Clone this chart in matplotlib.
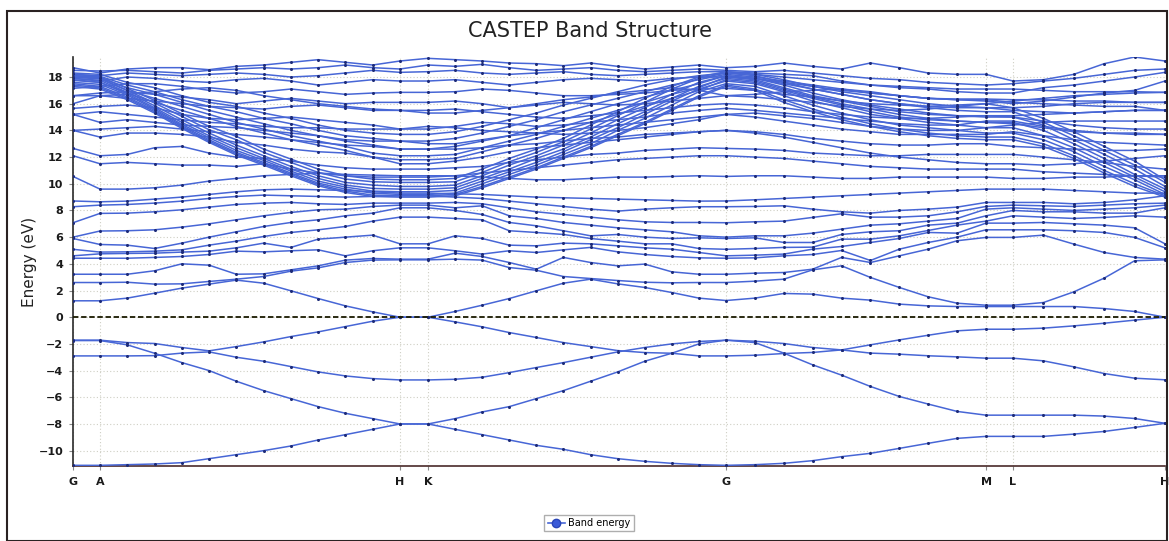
import numpy as np
import matplotlib
matplotlib.use("Agg")
import matplotlib.pyplot as plt
from matplotlib.lines import Line2D
from matplotlib.patches import Rectangle

# ---------------------------------------------------------------------------
# k-path: high-symmetry labels, segment lengths (path units) and k-steps
# ---------------------------------------------------------------------------
kpoint_labels = ["G", "A", "H", "K", "G", "M", "L", "H"]
segment_lengths = [27, 300, 28, 298, 260, 27, 152]
segment_steps = [1, 11, 1, 11, 9, 1, 5]

energy_ticks = list(range(-10, 19, 2))

# ---------------------------------------------------------------------------
# Band energies (eV) at each k-point along G-A-H-K-G-M-L-H
# ---------------------------------------------------------------------------
# valence bands
vb1 = [-11.10, -11.10,
       -11.05, -11.00, -10.90, -10.60, -10.30, -10.00, -9.65, -9.20, -8.80, -8.40, -8.00,
       -8.00,
       -8.40, -8.80, -9.20, -9.60, -9.90, -10.30, -10.60, -10.80, -10.95, -11.05, -11.10,
       -11.05, -10.95, -10.75, -10.45, -10.20, -9.83, -9.45, -9.08, -8.93,
       -8.93,
       -8.93, -8.76, -8.56, -8.26, -7.95]
vb2 = [-1.75, -1.75,
       -2.07, -2.70, -3.40, -4.00, -4.80, -5.50, -6.10, -6.70, -7.20, -7.60, -8.00,
       -8.00,
       -7.60, -7.10, -6.70, -6.10, -5.50, -4.80, -4.10, -3.30, -2.70, -2.00, -1.72,
       -1.90, -2.69, -3.57, -4.34, -5.19, -5.94, -6.51, -7.06, -7.34,
       -7.34,
       -7.34, -7.34, -7.41, -7.59, -7.95]
vb3 = [-1.72, -1.72,
       -1.90, -1.97, -2.27, -2.52, -2.20, -1.85, -1.45, -1.10, -0.70, -0.30, 0.00,
       0.00,
       -0.35, -0.72, -1.15, -1.52, -1.90, -2.20, -2.50, -2.65, -2.70, -2.90, -2.90,
       -2.85, -2.72, -2.64, -2.45, -2.69, -2.77, -2.89, -2.97, -3.07,
       -3.07,
       -3.27, -3.72, -4.22, -4.57, -4.69]
vb4 = [-2.90, -2.90,
       -2.90, -2.88, -2.69, -2.60, -3.00, -3.30, -3.70, -4.10, -4.40, -4.60, -4.70,
       -4.70,
       -4.65, -4.50, -4.15, -3.77, -3.40, -3.00, -2.60, -2.27, -2.00, -1.82, -1.72,
       -1.80, -1.97, -2.27, -2.45, -2.07, -1.70, -1.35, -1.02, -0.90,
       -0.90,
       -0.82, -0.65, -0.45, -0.22, 0.00]

# lower conduction bands
cb01 = [1.23, 1.23,
        1.43, 1.80, 2.18, 2.48, 2.78, 2.55, 1.98, 1.40, 0.85, 0.40, 0.00,
        0.00,
        0.43, 0.90, 1.40, 1.98, 2.55, 2.85, 2.50, 2.23, 1.85, 1.43, 1.25,
        1.43, 1.78, 1.73, 1.43, 1.28, 0.98, 0.85, 0.80, 0.80,
        0.80,
        0.80, 0.80, 0.65, 0.43, 0.00]
cb02 = [2.60, 2.60,
        2.62, 2.48, 2.50, 2.68, 2.85, 3.05, 3.45, 3.70, 4.10, 4.28, 4.30,
        4.30,
        4.35, 4.28, 3.72, 3.52, 3.05, 2.90, 2.75, 2.62, 2.58, 2.60, 2.60,
        2.70, 2.85, 3.55, 3.85, 2.98, 2.23, 1.53, 1.05, 0.90,
        0.90,
        1.10, 1.90, 2.93, 4.23, 4.30]
cb03 = [3.22, 3.22,
        3.22, 3.48, 4.00, 3.90, 3.22, 3.25, 3.55, 3.85, 4.28, 4.40, 4.35,
        4.35,
        4.80, 4.55, 4.10, 3.60, 4.48, 4.10, 3.85, 3.98, 3.40, 3.22, 3.22,
        3.30, 3.35, 3.60, 4.48, 4.10, 4.60, 5.10, 5.73, 5.98,
        5.98,
        6.15, 5.48, 4.85, 4.48, 4.35]
cb04 = [4.42, 4.42,
        4.42, 4.48, 4.55, 4.70, 4.95, 4.90, 4.98, 5.05, 4.60, 4.98, 5.20,
        5.20,
        4.98, 4.73, 4.98, 4.85, 5.05, 5.23, 4.90, 4.70, 4.55, 4.45, 4.42,
        4.45, 4.60, 4.70, 5.00, 4.25, 5.10, 5.60, 6.00, 6.55,
        6.55,
        6.55, 6.48, 6.35, 5.98, 5.20]
cb05 = [4.60, 4.75,
        4.78, 4.80, 4.88, 4.95, 5.20, 5.55, 5.23, 5.85, 6.00, 6.15, 5.50,
        5.50,
        6.10, 5.90, 5.40, 5.35, 5.55, 5.50, 5.35, 5.20, 5.10, 4.85, 4.60,
        4.65, 4.73, 5.10, 5.30, 5.60, 5.90, 6.35, 6.30, 7.05,
        7.05,
        7.10, 7.00, 6.90, 6.70, 5.50]
cb06 = [5.09, 4.88,
        4.90, 4.95, 5.05, 5.40, 5.70, 6.05, 6.35, 6.55, 6.80, 7.20, 7.50,
        7.50,
        7.40, 7.30, 6.48, 6.35, 6.20, 5.90, 5.70, 5.50, 5.50, 5.15, 5.09,
        5.15, 5.23, 5.25, 5.85, 5.85, 6.10, 6.50, 6.90, 7.20,
        7.60,
        7.50, 7.40, 7.48, 7.60, 7.50]
cb07 = [5.90, 5.45,
        5.40, 5.15, 5.55, 6.00, 6.40, 6.80, 7.10, 7.30, 7.60, 7.80, 8.20,
        8.20,
        8.00, 7.70, 7.10, 6.85, 6.48, 6.10, 6.20, 6.00, 5.90, 5.95, 5.90,
        5.95, 5.60, 5.60, 6.20, 6.40, 6.48, 6.90, 7.05, 7.60,
        8.00,
        7.90, 7.90, 7.80, 7.80, 8.20]
cb08 = [6.00, 6.46,
        6.48, 6.55, 6.75, 7.00, 7.30, 7.60, 7.85, 8.05, 8.10, 8.30, 8.40,
        8.40,
        8.20, 8.35, 7.60, 7.40, 7.10, 6.90, 6.70, 6.55, 6.40, 6.10, 6.00,
        6.10, 6.10, 6.30, 6.60, 6.90, 7.00, 7.20, 7.40, 8.10,
        8.20,
        8.10, 8.00, 8.10, 8.20, 8.40]
cb09 = [7.08, 7.78,
        7.80, 7.90, 8.05, 8.25, 8.45, 8.55, 8.60, 8.50, 8.45, 8.55, 8.55,
        8.55,
        8.60, 8.50, 8.20, 7.90, 7.70, 7.50, 7.30, 7.15, 7.10, 7.10, 7.08,
        7.15, 7.20, 7.48, 7.75, 7.50, 7.50, 7.60, 7.90, 8.30,
        8.40,
        8.35, 8.30, 8.40, 8.50, 8.55]
cb10 = [8.28, 8.40,
        8.45, 8.55, 8.70, 8.90, 9.05, 9.15, 9.10, 9.05, 9.00, 9.05, 9.10,
        9.10,
        9.00, 8.90, 8.70, 8.50, 8.30, 8.10, 7.95, 8.10, 8.20, 8.28, 8.28,
        8.30, 8.35, 8.10, 7.90, 7.80, 8.00, 8.10, 8.25, 8.60,
        8.60,
        8.60, 8.50, 8.60, 8.80, 9.10]

# upper conduction bands: flat-ish bands
cb11 = [8.71, 8.65,
        8.70, 8.85, 9.00, 9.20, 9.40, 9.55, 9.60, 9.55, 9.50, 9.40, 9.30,
        9.30,
        9.25, 9.20, 9.10, 9.00, 8.95, 8.90, 8.85, 8.80, 8.75, 8.70, 8.71,
        8.80, 8.90, 9.00, 9.10, 9.20, 9.30, 9.40, 9.50, 9.60,
        9.60,
        9.60, 9.50, 9.40, 9.30, 9.30]
cb12 = [10.55, 9.60,
        9.60, 9.70, 9.90, 10.20, 10.40, 10.60, 10.70, 10.80, 10.70, 10.65, 10.60,
        10.60,
        10.60, 10.50, 10.40, 10.30, 10.30, 10.40, 10.50, 10.50, 10.55, 10.60, 10.55,
        10.60, 10.60, 10.50, 10.40, 10.40, 10.50, 10.50, 10.50, 10.50,
        10.40,
        10.40, 10.50, 10.50, 10.60, 10.60]
cb13 = [12.10, 11.50,
        11.60, 11.50, 11.40, 11.40, 11.30, 11.50, 11.10, 10.80, 10.60, 10.50, 10.50,
        10.50,
        10.60, 10.80, 11.00, 11.20, 11.40, 11.60, 11.80, 11.90, 12.00, 12.10, 12.10,
        12.00, 11.90, 11.70, 11.50, 11.30, 11.20, 11.10, 11.10, 11.10,
        11.10,
        10.90, 10.80, 10.70, 10.60, 10.50]
cb14 = [12.65, 12.10,
        12.20, 12.70, 12.80, 12.30, 12.00, 11.90, 11.70, 11.40, 11.20, 11.10, 11.10,
        11.10,
        11.20, 11.30, 11.60, 11.80, 12.00, 12.20, 12.30, 12.50, 12.60, 12.70, 12.65,
        12.60, 12.50, 12.30, 12.20, 12.10, 12.10, 12.20, 12.20, 12.20,
        12.20,
        12.00, 11.80, 11.60, 11.30, 11.10]
cb15 = [14.00, 13.50,
        13.80, 13.80, 13.70, 13.50, 13.10, 12.90, 12.60, 12.40, 12.30, 12.00, 11.50,
        11.50,
        11.70, 12.00, 12.40, 12.70, 12.90, 13.10, 13.30, 13.50, 13.70, 13.90, 14.00,
        13.90, 13.70, 13.40, 13.20, 13.00, 12.90, 12.90, 13.00, 13.00,
        12.80,
        12.70, 12.60, 12.50, 12.50, 12.60]
cb16 = [15.20, 14.60,
        14.80, 14.60, 14.40, 14.30, 14.20, 14.00, 13.80, 13.60, 13.30, 13.20, 13.20,
        13.00,
        13.00, 13.30, 13.60, 13.80, 14.00, 14.20, 14.40, 14.60, 14.80, 15.00, 15.20,
        15.00, 14.70, 14.40, 14.10, 13.90, 13.70, 13.70, 13.70, 13.70,
        13.90,
        13.60, 13.30, 13.10, 13.00, 12.90]
cb17 = [15.65, 15.80,
        15.90, 15.70, 15.20, 14.90, 14.80, 14.90, 15.00, 14.80, 14.60, 14.40, 14.10,
        14.10,
        14.30, 14.60, 14.50, 14.30, 14.40, 14.60, 14.80, 15.00, 15.30, 15.50, 15.65,
        15.50, 15.30, 15.10, 14.90, 14.70, 14.50, 14.40, 14.40, 14.70,
        14.70,
        14.30, 14.00, 13.80, 13.70, 13.70]
cb18 = [16.00, 16.60,
        16.40, 16.20, 16.00, 15.80, 15.70, 15.60, 15.80, 15.90, 15.70, 15.50, 15.50,
        15.50,
        15.60, 15.40, 15.20, 15.00, 14.90, 15.10, 15.30, 15.50, 15.70, 15.90, 16.00,
        15.90, 15.70, 15.40, 15.20, 15.00, 14.90, 14.90, 15.00, 15.10,
        15.10,
        15.20, 15.30, 15.40, 15.50, 15.50]
cb19 = [16.60, 16.80,
        16.90, 16.70, 16.50, 16.30, 16.00, 16.20, 16.40, 16.20, 16.00, 16.10, 16.10,
        16.10,
        16.20, 16.00, 15.70, 15.90, 16.10, 16.00, 15.90, 16.00, 16.20, 16.40, 16.60,
        16.50, 16.30, 16.10, 15.80, 15.60, 15.50, 15.60, 15.80, 16.00,
        15.70,
        15.80, 16.00, 16.10, 16.10, 16.10]
cb20 = [17.15, 17.30,
        17.50, 17.50, 17.30, 17.00, 16.80, 16.90, 17.10, 16.90, 16.70, 16.80, 16.85,
        16.85,
        16.90, 17.10, 17.00, 16.80, 16.60, 16.60, 16.70, 16.80, 17.00, 17.10, 17.15,
        17.00, 16.70, 16.50, 16.20, 16.00, 15.90, 15.80, 15.90, 16.00,
        16.20,
        16.40, 16.60, 16.70, 16.80, 16.85]
cb21 = [17.90, 17.70,
        18.00, 17.90, 17.70, 17.60, 17.80, 17.90, 17.70, 17.40, 17.60, 17.80, 17.70,
        17.70,
        17.80, 17.60, 17.40, 17.60, 17.80, 17.90, 17.80, 17.70, 17.90, 18.00, 18.00,
        17.90, 17.60, 17.30, 17.00, 16.80, 16.60, 16.40, 16.30, 16.20,
        16.00,
        16.20, 16.50, 16.80, 17.00, 17.70]
cb22 = [18.20, 18.10,
        18.30, 18.20, 18.10, 18.20, 18.30, 18.20, 18.00, 18.10, 18.30, 18.50, 18.35,
        18.40,
        18.50, 18.30, 18.20, 18.30, 18.40, 18.20, 18.10, 18.20, 18.30, 18.40, 18.40,
        18.30, 18.20, 18.10, 17.70, 17.40, 17.20, 17.10, 16.90, 16.80,
        16.80,
        17.20, 17.40, 17.70, 18.00, 18.35]
cb23 = [18.50, 18.45,
        18.50, 18.40, 18.30, 18.50, 18.60, 18.70, 18.60, 18.70, 18.90, 18.70, 18.60,
        18.90,
        18.80, 18.95, 18.70, 18.50, 18.60, 18.70, 18.50, 18.40, 18.50, 18.60, 18.50,
        18.40, 18.50, 18.30, 18.10, 17.90, 17.80, 17.60, 17.50, 17.40,
        17.50,
        17.70, 17.90, 18.20, 18.50, 18.60]
cb24 = [18.70, 18.30,
        18.60, 18.70, 18.70, 18.55, 18.80, 18.90, 19.10, 19.30, 19.10, 18.90, 19.20,
        19.40,
        19.30, 19.20, 19.05, 19.00, 18.85, 19.05, 18.80, 18.60, 18.75, 18.90, 18.70,
        18.80, 19.05, 18.80, 18.60, 19.05, 18.70, 18.30, 18.20, 18.20,
        17.70,
        17.80, 18.20, 19.00, 19.50, 19.20]
cb25 = [16.60, 16.60,
        16.70, 16.90, 17.10, 17.20, 17.00, 16.60, 16.30, 16.00, 15.80, 15.60, 15.50,
        15.30,
        15.30, 15.50, 15.70, 16.00, 16.30, 16.50, 16.80, 17.00, 17.20, 17.00, 16.60,
        16.70, 16.90, 17.00, 17.10, 16.90, 16.60, 16.40, 16.30, 16.30,
        16.10,
        16.00, 15.90, 15.80, 15.80, 15.50]
cb26 = [15.20, 15.40,
        15.20, 15.00, 14.80, 14.60, 14.50, 14.30, 14.20, 14.20, 14.10, 14.10, 14.10,
        14.30,
        14.20, 14.00, 13.90, 13.80, 13.70, 13.80, 14.00, 14.20, 14.50, 14.80, 15.20,
        15.30, 15.10, 14.90, 14.60, 14.30, 14.10, 14.00, 14.00, 14.20,
        14.40,
        14.60, 14.70, 14.70, 14.70, 14.70]
cb27 = [14.00, 14.10,
        14.20, 14.30, 14.10, 13.90, 13.70, 13.50, 13.30, 13.10, 12.90, 12.80, 12.60,
        12.60,
        12.60, 12.70, 12.90, 13.00, 13.20, 13.40, 13.50, 13.70, 13.80, 13.90, 14.00,
        13.80, 13.50, 13.10, 12.70, 12.30, 12.00, 11.80, 11.60, 11.50,
        11.50,
        11.40, 11.50, 11.70, 11.90, 12.10]

# upper conduction bands: bundle falling from G towards H (12-14 eV at H/K)
cb28 = [18.30, 18.20,
        17.60, 17.20, 16.60, 16.10, 15.80, 15.30, 14.90, 14.40, 14.00, 13.80, 13.70,
        13.70,
        13.90, 14.30, 14.80, 15.30, 15.90, 16.40, 16.90, 17.40, 17.80, 18.10, 18.30,
        18.20, 18.00, 17.80, 17.60, 17.40, 17.30, 17.20, 17.10, 17.10,
        17.10,
        17.00, 16.90, 16.90, 16.90, 16.85]
cb29 = [18.20, 18.05,
        17.40, 16.90, 16.30, 15.80, 15.40, 14.90, 14.50, 14.00, 13.60, 13.40, 13.20,
        13.20,
        13.40, 13.80, 14.30, 14.80, 15.40, 15.90, 16.40, 16.90, 17.40, 17.80, 18.20,
        18.00, 17.70, 17.40, 17.10, 16.80, 16.60, 16.40, 16.35, 16.35,
        16.30,
        16.30, 16.20, 16.20, 16.10, 16.10]
cb30 = [18.10, 17.95,
        17.20, 16.70, 16.10, 15.50, 15.00, 14.50, 14.00, 13.60, 13.20, 12.90, 12.60,
        12.60,
        12.80, 13.20, 13.60, 14.20, 14.80, 15.40, 16.00, 16.50, 17.00, 17.50, 18.10,
        17.90, 17.50, 17.10, 16.70, 16.30, 16.00, 15.80, 15.70, 15.70,
        15.50,
        15.40, 15.30, 15.40, 15.50, 15.50]
cb31 = [18.00, 17.85,
        17.00, 16.40, 15.80, 15.20, 14.60, 14.10, 13.60, 13.20, 12.80, 12.30, 12.10,
        12.10,
        12.20, 12.70, 13.20, 13.70, 14.30, 14.90, 15.50, 16.10, 16.70, 17.20, 18.00,
        17.80, 17.20, 16.60, 16.20, 15.80, 15.40, 15.20, 15.10, 15.10,
        15.00,
        14.70, 14.40, 14.20, 14.10, 14.10]
cb32 = [17.80, 17.60,
        16.80, 16.10, 15.50, 14.90, 14.30, 13.80, 13.30, 12.90, 12.50, 12.00, 11.80,
        11.80,
        11.90, 12.40, 12.90, 13.40, 14.00, 14.60, 15.20, 15.80, 16.40, 17.00, 17.80,
        17.60, 17.00, 16.40, 15.90, 15.40, 15.00, 14.80, 14.70, 14.60,
        14.50,
        14.20, 13.90, 13.80, 13.80, 13.70]

# upper conduction bands: steep bundle dipping to ~9-10 eV at H/K
cb33 = [18.10, 18.00,
        17.15, 16.25, 15.25, 14.30, 13.55, 12.60, 11.85, 11.10, 10.60, 10.35, 10.30,
        10.30,
        10.40, 11.10, 11.90, 12.60, 13.40, 14.40, 15.40, 16.40, 17.30, 18.00, 18.40,
        18.20, 17.80, 17.30, 16.90, 16.60, 16.30, 16.00, 15.80, 15.70,
        15.70,
        14.90, 13.90, 12.80, 11.70, 10.30]
cb34 = [18.00, 17.90,
        17.00, 16.05, 15.05, 14.05, 13.30, 12.35, 11.60, 10.85, 10.35, 10.15, 10.10,
        10.10,
        10.15, 10.85, 11.65, 12.35, 13.15, 14.10, 15.10, 16.10, 17.10, 17.90, 18.30,
        18.10, 17.60, 17.10, 16.70, 16.30, 16.00, 15.70, 15.50, 15.40,
        15.40,
        14.60, 13.60, 12.50, 11.40, 10.10]
cb35 = [17.90, 17.75,
        16.85, 15.85, 14.80, 13.80, 12.90, 12.10, 11.30, 10.60, 10.10, 9.90, 9.80,
        9.80,
        9.90, 10.60, 11.40, 12.10, 12.90, 13.80, 14.80, 15.70, 16.70, 17.60, 18.10,
        17.90, 17.40, 16.80, 16.30, 15.90, 15.60, 15.30, 15.10, 15.00,
        15.00,
        14.40, 13.30, 12.20, 11.10, 9.80]
cb36 = [17.75, 17.60,
        16.75, 15.70, 14.60, 13.60, 12.70, 11.90, 11.10, 10.40, 9.90, 9.65, 9.60,
        9.60,
        9.70, 10.40, 11.10, 11.90, 12.60, 13.50, 14.50, 15.40, 16.40, 17.30, 17.90,
        17.70, 17.10, 16.50, 16.00, 15.60, 15.20, 14.90, 14.70, 14.60,
        14.60,
        14.00, 13.00, 11.90, 10.70, 9.60]
cb37 = [17.60, 17.45,
        16.65, 15.60, 14.45, 13.45, 12.50, 11.75, 10.95, 10.20, 9.75, 9.45, 9.40,
        9.40,
        9.50, 10.20, 10.90, 11.60, 12.40, 13.30, 14.20, 15.20, 16.20, 17.10, 17.70,
        17.50, 16.90, 16.20, 15.70, 15.20, 14.90, 14.60, 14.40, 14.20,
        14.20,
        13.60, 12.70, 11.60, 10.50, 9.40]
cb38 = [17.50, 17.30,
        16.50, 15.50, 14.35, 13.30, 12.35, 11.60, 10.80, 10.05, 9.60, 9.30, 9.20,
        9.20,
        9.30, 10.00, 10.70, 11.40, 12.20, 13.00, 14.00, 14.90, 15.90, 16.90, 17.50,
        17.30, 16.60, 15.90, 15.30, 14.80, 14.40, 14.20, 14.00, 13.80,
        13.80,
        13.30, 12.40, 11.30, 10.30, 9.20]
cb39 = [17.40, 17.20,
        16.40, 15.40, 14.25, 13.20, 12.25, 11.50, 10.70, 9.95, 9.45, 9.15, 9.10,
        9.10,
        9.20, 9.80, 10.50, 11.20, 12.00, 12.80, 13.70, 14.60, 15.60, 16.60, 17.40,
        17.10, 16.30, 15.60, 15.00, 14.50, 14.10, 13.80, 13.60, 13.50,
        13.50,
        13.00, 12.10, 11.00, 10.00, 9.10]
cb40 = [17.30, 17.10,
        16.30, 15.30, 14.15, 13.10, 12.15, 11.40, 10.60, 9.85, 9.35, 9.05, 9.00,
        9.00,
        9.10, 9.70, 10.40, 11.10, 11.90, 12.70, 13.60, 14.50, 15.50, 16.50, 17.30,
        17.00, 16.10, 15.40, 14.80, 14.30, 13.90, 13.60, 13.40, 13.30,
        13.30,
        12.80, 11.90, 10.80, 9.80, 9.00]

bands = [vb1, vb2, vb3, vb4,
         cb01, cb02, cb03, cb04, cb05, cb06, cb07, cb08, cb09, cb10,
         cb11, cb12, cb13, cb14, cb15, cb16, cb17, cb18, cb19, cb20,
         cb21, cb22, cb23, cb24, cb25, cb26, cb27, cb28, cb29, cb30,
         cb31, cb32, cb33, cb34, cb35, cb36, cb37, cb38, cb39, cb40]

# ---------------------------------------------------------------------------
# k-path coordinates
# ---------------------------------------------------------------------------
kx = [0.0]
for length, steps in zip(segment_lengths, segment_steps):
    start = kx[-1]
    kx.extend(start + length * np.arange(1, steps + 1) / steps)
kx = np.array(kx)
label_pos = np.concatenate([[0.0], np.cumsum(segment_lengths)])

for b in bands:
    assert len(b) == len(kx), len(b)

# ---------------------------------------------------------------------------
# Figure
# ---------------------------------------------------------------------------
W, H = 1169, 541
fig = plt.figure(figsize=(W / 100, H / 100), dpi=100)
fig.patch.set_facecolor("white")

ax_left, ax_right, ax_top, ax_bottom = 73, 1165, 57, 466
ax = fig.add_axes([ax_left / W, 1 - ax_bottom / H,
                   (ax_right - ax_left) / W, (ax_bottom - ax_top) / H])

line_color = "#4766d6"
dot_color = "#1d2b78"
for b in bands:
    ax.plot(kx, b, color=line_color, lw=1.1, marker="o", ms=2.2,
            mfc=dot_color, mec="none", zorder=3, solid_joinstyle="round")

# Fermi level
ax.axhline(0.0, color="#1a1a00", lw=1.3, ls=(0, (3, 1.5)), zorder=4)

ax.set_xlim(0, kx[-1])
ax.set_ylim(-11.15, 19.5)
ax.set_yticks(energy_ticks)
ax.set_xticks(label_pos)
ax.set_xticklabels(kpoint_labels)

ax.set_axisbelow(True)
ax.grid(True, color="#cfcfc4", ls=(0, (1, 2)), lw=0.8)

for side in ("top", "right"):
    ax.spines[side].set_visible(False)
ax.spines["left"].set_color("#2a2a2a")
ax.spines["bottom"].set_color("#4a2a2a")
ax.spines["left"].set_linewidth(1.2)
ax.spines["bottom"].set_linewidth(1.2)

ax.tick_params(axis="both", direction="out", length=3, width=0.8,
               color="#888888", labelsize=8, labelcolor="#1a1a1a")
ax.tick_params(axis="x", pad=5)
ax.tick_params(axis="y", pad=4)
for lbl in ax.get_xticklabels() + ax.get_yticklabels():
    lbl.set_fontweight("bold")

ax.set_ylabel("Energy (eV)", fontsize=11, color="#222222")
ax.yaxis.set_label_coords(-0.033, 0.5)

fig.text(590 / W, 1 - 31 / H, "CASTEP Band Structure", ha="center",
         va="center", fontsize=15, color="#222222")

legend_handle = Line2D([0], [0], color=line_color, lw=1.2, marker="o", ms=6,
                       mfc="#3a5ad8", mec="#2a45b8")
fig.legend(handles=[legend_handle], labels=["Band energy"], loc="center",
           bbox_to_anchor=(589 / W, 1 - 523 / H), fontsize=7, frameon=True,
           fancybox=False, edgecolor="#9a9a9a", handlelength=1.8,
           borderpad=0.35, handletextpad=0.3)

# outer frame of the chart panel
fig.add_artist(Rectangle((7 / W, 0.0), (1167 - 7) / W, (H - 11) / H,
                         transform=fig.transFigure, fill=False,
                         edgecolor="#2a2222", lw=1.5))

fig.savefig("out.png", dpi=100)
